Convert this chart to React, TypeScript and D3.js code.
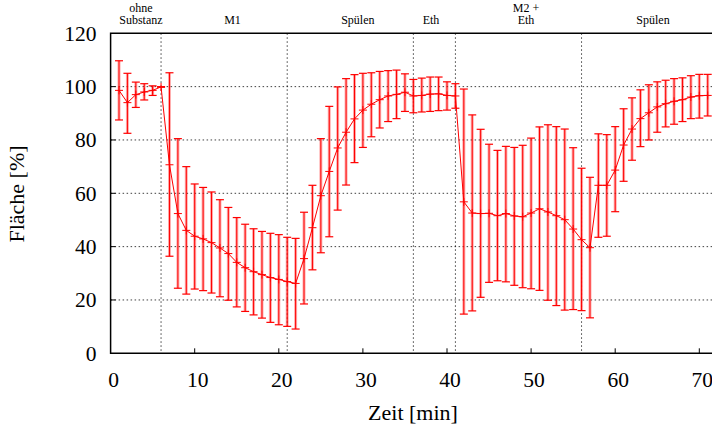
import React from "react";
import * as d3 from "d3";

const times = d3.range(1, 72);
const meanValues = [
  98.6, 94.0, 97.0, 98.0, 98.6, 99.9, 70.7, 52.4, 46.1, 43.9,
  42.9, 41.5, 39.5, 37.4, 34.1, 32.1, 30.6, 29.5, 28.4, 27.7,
  26.9, 26.2, 35.5, 47.1, 59.1, 68.2, 77.0, 82.9, 87.9, 91.2,
  93.4, 95.1, 96.5, 97.1, 97.9, 96.5, 96.7, 97.2, 97.3, 96.7,
  96.5, 56.8, 52.6, 52.4, 52.5, 51.6, 52.4, 51.5, 51.2, 52.6,
  54.2, 53.0, 51.6, 50.1, 46.6, 42.6, 39.6, 63.0, 63.0, 68.7,
  78.1, 84.1, 88.0, 90.2, 92.4, 93.6, 94.5, 95.1, 96.1, 96.6,
  96.7,
];
const upperValues = [
  109.7, 105.0, 101.7, 101.1, 100.3, 100.0, 105.2, 80.5, 70.0, 63.5,
  62.2, 60.5, 57.6, 54.7, 50.9, 48.4, 46.7, 45.7, 45.0, 44.5,
  43.5, 43.1, 52.9, 63.0, 80.5, 92.6, 99.9, 103.0, 104.5, 105.0,
  105.2, 105.7, 106.0, 106.2, 104.8, 102.7, 103.2, 103.6, 103.6, 101.8,
  101.1, 99.1, 89.4, 84.0, 78.4, 76.1, 77.6, 77.2, 78.0, 80.7,
  84.9, 85.7, 85.0, 84.1, 77.1, 69.4, 66.0, 82.3, 82.0, 85.0,
  91.7, 95.8, 98.8, 100.7, 101.8, 102.4, 103.0, 103.3, 104.1, 104.6,
  104.6,
];
const lowerValues = [
  87.5, 82.5, 92.2, 95.0, 96.7, 99.8, 36.4, 24.4, 22.2, 24.1,
  23.5, 22.6, 21.2, 19.9, 17.4, 15.7, 14.4, 13.2, 11.6, 10.7,
  10.1, 9.1, 18.5, 31.3, 37.7, 43.7, 53.7, 63.1, 71.5, 77.2,
  81.2, 84.5, 86.9, 88.0, 90.7, 90.2, 90.5, 90.7, 91.0, 91.2,
  91.9, 14.7, 15.9, 21.0, 26.6, 27.2, 26.8, 25.5, 24.6, 24.2,
  23.6, 19.9, 17.9, 16.2, 16.4, 16.0, 13.3, 43.5, 43.9, 53.1,
  64.5, 72.4, 77.5, 80.0, 82.9, 84.9, 85.9, 86.9, 88.0, 88.2,
  89.0,
];
const phaseBoundaries = [6, 21, 36, 41, 56];
const phaseLabels = [
  { lines: ["ohne", "Substanz"], t: 3.6 },
  { lines: ["M1"], t: 14.5 },
  { lines: ["Spülen"], t: 29.4 },
  { lines: ["Eth"], t: 38.1 },
  { lines: ["M2 +", "Eth"], t: 49.4 },
  { lines: ["Spülen"], t: 64.5 },
];
const xTicks = [0, 10, 20, 30, 40, 50, 60, 70];
const yTicks = [0, 20, 40, 60, 80, 100, 120];
const gridY = [20, 40, 60, 80, 100];

const W = 712;
const H = 428;
const left = 110.6;
const top = 33.3;
const bottom = 353.3;
const font = "'Liberation Serif', 'Times New Roman', serif";

export default function App() {
  const x = d3.scaleLinear().domain([0, 70]).range([left, 699.3]);
  const y = d3.scaleLinear().domain([0, 120]).range([bottom, top]);
  const right = x(73);
  const data = times.map((t, i) => ({
    t,
    m: meanValues[i],
    hi: upperValues[i],
    lo: lowerValues[i],
  }));
  const line = d3
    .line<{ t: number; m: number }>()
    .x((d) => x(d.t))
    .y((d) => y(d.m));

  return (
    <svg
      width={W}
      height={H}
      style={{ position: "absolute", left: 0, top: 0, background: "#fff" }}
      fontFamily={font}
    >
      {gridY.map((v) => (
        <line
          key={"gy" + v}
          x1={left}
          x2={right}
          y1={y(v)}
          y2={y(v)}
          stroke="#000"
          strokeWidth={1}
          strokeDasharray="1.5,2.5"
          opacity={0.75}
        />
      ))}
      {phaseBoundaries.map((v) => (
        <line
          key={"gx" + v}
          x1={x(v)}
          x2={x(v)}
          y1={top}
          y2={bottom}
          stroke="#000"
          strokeWidth={1}
          strokeDasharray="1.5,2.5"
          opacity={0.75}
        />
      ))}
      {xTicks.slice(1).map((v) => (
        <line
          key={"xt" + v}
          x1={x(v)}
          x2={x(v)}
          y1={bottom}
          y2={bottom - 5}
          stroke="#000"
          strokeWidth={1}
        />
      ))}
      {yTicks.slice(1, -1).map((v) => (
        <line
          key={"yt" + v}
          x1={left}
          x2={left + 5}
          y1={y(v)}
          y2={y(v)}
          stroke="#000"
          strokeWidth={1}
        />
      ))}
      <path
        d={`M${right},${top}H${left}V${bottom}H${right}`}
        fill="none"
        stroke="#000"
        strokeWidth={1.5}
      />
      {data.map((d) => (
        <g key={"e" + d.t}>
          <line
            x1={x(d.t)}
            x2={x(d.t)}
            y1={y(d.hi)}
            y2={y(d.lo)}
            stroke="rgba(255,0,0,0.33)"
            strokeWidth={3}
          />
          <line
            x1={x(d.t)}
            x2={x(d.t)}
            y1={y(d.hi)}
            y2={y(d.lo)}
            stroke="#f00"
            strokeWidth={1}
          />
          <line
            x1={x(d.t) - 4}
            x2={x(d.t) + 4}
            y1={y(d.hi)}
            y2={y(d.hi)}
            stroke="#f00"
            strokeWidth={1.2}
          />
          <line
            x1={x(d.t) - 4}
            x2={x(d.t) + 4}
            y1={y(d.lo)}
            y2={y(d.lo)}
            stroke="#f00"
            strokeWidth={1.2}
          />
        </g>
      ))}
      <path d={line(data) || ""} fill="none" stroke="#f00" strokeWidth={1} />
      {data.map((d) => (
        <path
          key={"p" + d.t}
          d={`M${x(d.t) - 4},${y(d.m)}h8M${x(d.t)},${y(d.m) - 4}v8`}
          stroke="#f00"
          strokeWidth={1}
        />
      ))}
      {xTicks.map((v) => (
        <text
          key={"xl" + v}
          x={x(v) + 3}
          y={386.5}
          textAnchor="middle"
          fontSize={21.5}
          fill="#000"
        >
          {v}
        </text>
      ))}
      {yTicks.map((v) => (
        <text
          key={"yl" + v}
          x={96.5}
          y={y(v) + 7.5}
          textAnchor="end"
          fontSize={21.5}
          fill="#000"
        >
          {v}
        </text>
      ))}
      <text x={413} y={420} textAnchor="middle" fontSize={22} fill="#000">
        Zeit [min]
      </text>
      <text
        transform="translate(23.5,194) rotate(-90)"
        textAnchor="middle"
        fontSize={22}
        fill="#000"
      >
        Fläche [%]
      </text>
      {phaseLabels.map((p, i) =>
        p.lines.map((s, j) => (
          <text
            key={"pl" + i + "-" + j}
            x={x(p.t)}
            y={24 - (p.lines.length - 1 - j) * 12.5}
            textAnchor="middle"
            fontSize={12}
            fill="#000"
          >
            {s}
          </text>
        ))
      )}
    </svg>
  );
}
